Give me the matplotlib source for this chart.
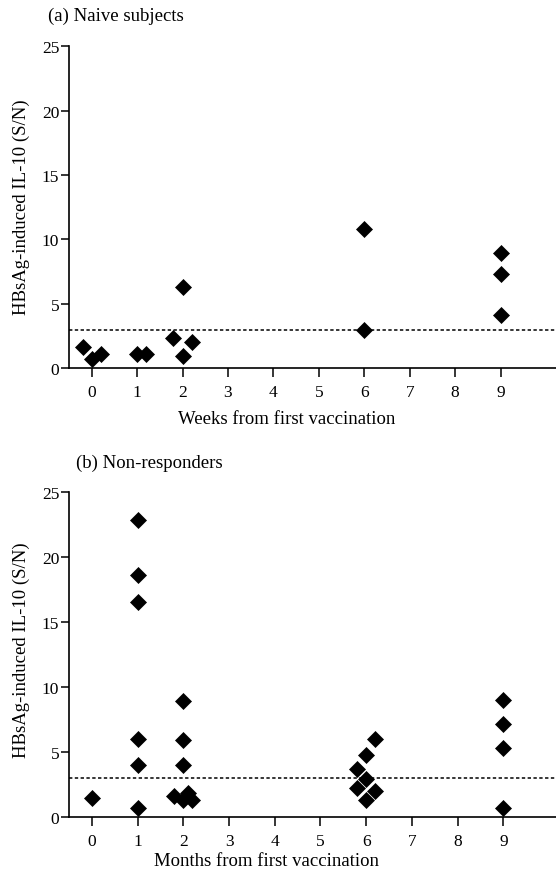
import matplotlib
matplotlib.use("Agg")
import matplotlib.pyplot as plt

plt.rcParams['font.family'] = ['Liberation Serif', 'DejaVu Serif']

# categorical x positions (0..9 evenly spaced), small jitter as in the figure
ticks = [0, 1, 2, 3, 4, 5, 6, 7, 8, 9]
cutoff = 3.0

# (a) naive subjects, weeks
naive_x = [-0.2, 0.0, 0.2, 1.0, 1.2, 1.8, 2.0, 2.0, 2.2, 6.0, 6.0, 9.0, 9.0, 9.0]
naive_y = [1.68, 0.73, 1.14, 1.09, 1.1, 2.33, 6.32, 0.95, 2.02, 10.78, 2.97,
           8.96, 7.31, 4.17]

# (b) non-responders, months
nonresp_x = [0.0, 1.0, 1.0, 1.0, 1.0, 1.0, 1.0,
             2.0, 2.0, 2.0, 1.8, 2.0, 2.1, 2.2,
             5.8, 5.8, 6.0, 6.0, 6.0, 6.2, 6.2,
             9.0, 9.0, 9.0, 9.0]
nonresp_y = [1.46, 22.87, 18.65, 16.55, 6.01, 4.01, 0.69,
             8.92, 5.91, 4.01, 1.59, 1.26, 1.82, 1.3,
             3.67, 2.18, 4.72, 2.9, 1.26, 6.01, 2.0,
             8.97, 7.14, 5.27, 0.67]


def draw_panel(ax, x, y, xright):
    ax.plot(x, y, linestyle='none', marker='D', ms=7.8, mew=0.5,
            color='black', clip_on=False, zorder=3)
    ax.axhline(cutoff, color='black', lw=1.1, linestyle=(0, (2.2, 1.6)))
    ax.set_xlim(-0.5, xright)
    ax.set_ylim(0, 25)
    ax.set_xticks(ticks)
    ax.set_yticks([0, 5, 10, 15, 20, 25])
    ax.tick_params(axis='x', direction='out', length=6.5, width=1.1,
                   labelsize=12.5, pad=5)
    ax.tick_params(axis='y', direction='out', length=6, width=1.1,
                   labelsize=12.5, pad=1)
    ax.spines['top'].set_visible(False)
    ax.spines['right'].set_visible(False)
    for s in ('left', 'bottom'):
        ax.spines[s].set_linewidth(1.2)


fig = plt.figure(figsize=(5.56, 8.79), dpi=100)

ax1 = fig.add_axes([0.124, 0.58, 0.876, 0.366])
draw_panel(ax1, naive_x, naive_y, 10.22)

ax2 = fig.add_axes([0.124, 0.0697, 0.876, 0.369])
draw_panel(ax2, nonresp_x, nonresp_y, 10.15)

fs = 13.5
fig.text(48 / 556, 1 - 16 / 879, '(a) Naive subjects', fontsize=fs,
         ha='left', va='center')
fig.text(76 / 556, 1 - 463 / 879, '(b) Non-responders', fontsize=fs,
         ha='left', va='center')
fig.text(287 / 556, 1 - 420 / 879, 'Weeks from first vaccination',
         fontsize=fs, ha='center', va='center')
fig.text(267 / 556, 1 - 862 / 879, 'Months from first vaccination',
         fontsize=fs, ha='center', va='center')
fig.text(21 / 556, 1 - 207 / 879, 'HBsAg-induced IL-10 (S/N)', fontsize=fs,
         ha='center', va='center', rotation=90)
fig.text(21 / 556, 1 - 650 / 879, 'HBsAg-induced IL-10 (S/N)', fontsize=fs,
         ha='center', va='center', rotation=90)

fig.savefig('out.png', dpi=100)
